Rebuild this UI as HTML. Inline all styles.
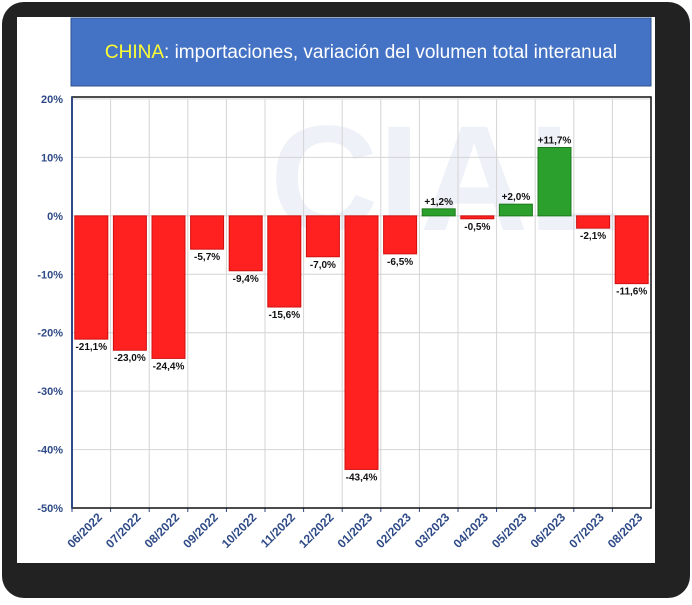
<!DOCTYPE html>
<html><head><meta charset="utf-8"><style>
html,body{margin:0;padding:0;background:#fff;}
body{width:692px;height:600px;overflow:hidden;font-family:"Liberation Sans",sans-serif;}
</style></head><body>
<svg width="692" height="600" xmlns="http://www.w3.org/2000/svg">
<rect x="2" y="2" width="688" height="596" rx="22" fill="#222"/>
<rect x="17" y="17" width="638" height="546" fill="#fff"/>
<rect x="71" y="18" width="580" height="68" fill="#4472C4" stroke="#2F528F"/>
<text x="361" y="58" text-anchor="middle" font-size="19" fill="#fff"><tspan fill="#FFFF33">CHINA</tspan>: importaciones, variación del volumen total interanual</text>
<text x="270" y="230" font-size="150" font-weight="bold" fill="#EEF1F8">CIAL</text>
<g id="g"></g>
</svg>
<script>
const categories=["06/2022","07/2022","08/2022","09/2022","10/2022","11/2022","12/2022","01/2023","02/2023","03/2023","04/2023","05/2023","06/2023","07/2023","08/2023"];
const values=[-21.1,-23.0,-24.4,-5.7,-9.4,-15.6,-7.0,-43.4,-6.5,1.2,-0.5,2.0,11.7,-2.1,-11.6];
const printed=["-21,1%","-23,0%","-24,4%","-5,7%","-9,4%","-15,6%","-7,0%","-43,4%","-6,5%","+1,2%","-0,5%","+2,0%","+11,7%","-2,1%","-11,6%"];
const yTicks=[20,10,0,-10,-20,-30,-40,-50];
const yTickLabels=["20%","10%","0%","-10%","-20%","-30%","-40%","-50%"];
const NS="http://www.w3.org/2000/svg";
const g=document.getElementById('g');
const L=72,R=651,T=99,B=508,ymax=20,ymin=-50;
const y=v=>T+(ymax-v)/(ymax-ymin)*(B-T);
const cw=(R-L)/categories.length;
const x=i=>L+i*cw;
function mk(t,a,txt){const e=document.createElementNS(NS,t);for(const k in a)e.setAttribute(k,a[k]);if(txt!=null)e.textContent=txt;g.appendChild(e);return e;}
yTicks.forEach((v,i)=>{
 const l=mk('line',{x1:L,x2:R,y1:y(v),y2:y(v),stroke:'#d4d4d4'});
 
 
 const t=mk('text',{x:63,y:y(v)+4,'text-anchor':'end','font-size':11,'font-weight':'bold',fill:'#2E4A86'},yTickLabels[i]);
 
 
});
for(let i=1;i<categories.length;i++){
 const l=mk('line',{x1:x(i),x2:x(i),y1:T,y2:B,stroke:'#d4d4d4'});
 
 
}
values.forEach((v,i)=>{
 const cx=x(i)+cw/2,bw=33;
 const y0=y(0),y1=y(v);
 const r=mk('rect',{x:cx-bw/2,y:Math.min(y0,y1),width:bw,height:Math.abs(y1-y0),fill:v>=0?'#2CA02C':'#FF2020',stroke:v>=0?'#1E7A1E':'#D01010'});
 
 
 const ly=v>=0?y1-4:y1+11;
 const t=mk('text',{x:cx,y:ly,'text-anchor':'middle','font-size':10,'font-weight':'bold',fill:'#111'},printed[i]);
 
 
 const tx=x(i)+cw*0.8,tyy=B+10;
 const xl=mk('text',{x:tx,y:tyy,'text-anchor':'end','font-size':12,'font-weight':'bold',fill:'#2E4A86',transform:`rotate(-45 ${tx} ${tyy})`},categories[i]);
 
 
 const tk=mk('line',{x1:x(i),x2:x(i),y1:B,y2:B+4,stroke:'#2E4A86'});
 
 
});
const fr=mk('rect',{x:L,y:T-2,width:R-L,height:B-T+2,fill:'none',stroke:'#111','stroke-width':1.5});


const ax=mk('line',{x1:L,x2:L,y1:T-2,y2:B,stroke:'#2E4A86','stroke-width':2});


</script>
</body></html>
